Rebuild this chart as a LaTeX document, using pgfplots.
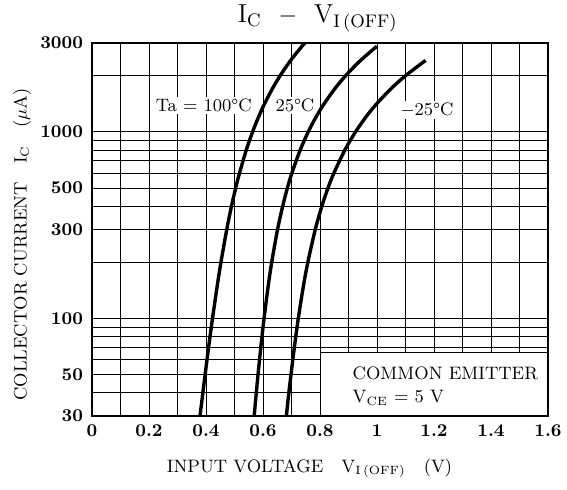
\documentclass[border=0pt]{standalone}
\usepackage{fontspec}
\usepackage{pgfplots}
\pgfplotsset{compat=1.18}
\pgfplotstableread{
v I
0.3790 30
0.3890 40
0.3969 50
0.4091 70
0.4228 100
0.4395 150
0.4524 200
0.4728 300
0.4894 400
0.5040 500
0.5173 600
0.5413 800
0.5633 1000
0.5840 1200
0.6038 1400
0.6323 1700
0.6598 2000
0.6953 2400
0.7300 2800
0.7470 3000
}\hundred
\pgfplotstableread{
v I
0.5690 30
0.5765 40
0.5826 50
0.5923 70
0.6037 100
0.6184 150
0.6305 200
0.6510 300
0.6690 400
0.6854 500
0.7010 600
0.7305 800
0.7585 1000
0.7857 1200
0.8122 1400
0.8512 1700
0.8895 2000
0.9398 2400
0.9993 2880
}\twentyfive
\pgfplotstableread{
v I
0.6820 30
0.6907 40
0.6982 50
0.7100 70
0.7238 100
0.7420 150
0.7573 200
0.7834 300
0.8065 400
0.8279 500
0.8483 600
0.8872 800
0.9244 1000
0.9605 1200
0.9959 1400
1.0481 1700
1.0995 2000
1.1705 2420
}\minustwentyfive
\begin{document}
\begin{tikzpicture}
\begin{semilogyaxis}[
  scale only axis, width=228pt, height=186.5pt,
  xmin=0, xmax=1.6, ymin=30, ymax=3000,
  xtick={0,0.2,0.4,0.6,0.8,1,1.2,1.4,1.6},
  xticklabels={0,0.2,0.4,0.6,0.8,1,1.2,1.4,1.6},
  minor xtick={0.1,0.3,0.5,0.7,0.9,1.1,1.3,1.5},
  ytick={30,50,100,300,500,1000,3000},
  yticklabels={30,50,100,300,500,1000,3000},
  minor ytick={40,60,70,80,90,200,400,600,700,800,900,2000},
  grid=both,
  major grid style={black, line width=0.5pt},
  minor grid style={black, line width=0.5pt},
  major tick length=0pt, minor tick length=0pt,
  axis line style={line width=1pt},
  ticklabel style={font=\fontsize{9}{10}\selectfont\bfseries},
  /pgf/number format/assume math mode=true,
  xticklabel style={yshift=-1pt},
  yticklabel style={xshift=-1pt},
  clip=false,
]
\draw[fill=white, line width=0.5pt] (axis cs:0.8,30) rectangle (axis cs:1.6,66);
\draw[line width=1pt] (axis cs:0.8,30) -- (axis cs:1.6,30) -- (axis cs:1.6,66);
\addplot[black, line width=1.7pt, smooth] table[x=v, y=I] {\hundred};
\addplot[black, line width=1.7pt, smooth] table[x=v, y=I] {\twentyfive};
\addplot[black, line width=1.7pt, smooth] table[x=v, y=I] {\minustwentyfive};
\node[fill=white, inner sep=1pt, font=\fontsize{9}{10}\selectfont] at (axis cs:0.392,1386) {Ta = 100°C};
\node[fill=white, inner sep=1pt, font=\fontsize{9}{10}\selectfont] at (axis cs:0.712,1386) {25°C};
\node[fill=white, inner sep=1pt, font=\fontsize{9}{10}\selectfont] at (axis cs:1.175,1317) {$-$25°C};
\node[anchor=west, font=\fontsize{9}{10}\selectfont] at (axis cs:0.89,51) {COMMON EMITTER};
\node[anchor=west, font=\fontsize{9}{10}\selectfont] at (axis cs:0.89,37.5) {V$_{\mathrm{CE}}$ = 5 V};
\node[font=\fontsize{13}{15}\selectfont] at (axis description cs:0.495,1.067) {I$_{\mathrm{C}}$ \ $-$ \ V$_{\mathrm{I\,(OFF)}}$};
\node[font=\fontsize{9}{10}\selectfont] at (axis description cs:0.477,-0.14) {INPUT VOLTAGE\quad V$_{\mathrm{I\,(OFF)}}$\quad (V)};
\node[font=\fontsize{9}{10}\selectfont, rotate=90] at (axis description cs:-0.153,0.46) {COLLECTOR CURRENT\quad I$_{\mathrm{C}}$\quad ($\mu$A)};
\end{semilogyaxis}
\pgfresetboundingbox
\path[use as bounding box] ([shift={(-46pt,-36.5pt)}]current axis.south west) rectangle ([shift={(9.5pt,21.5pt)}]current axis.north east);
\end{tikzpicture}
\end{document}
